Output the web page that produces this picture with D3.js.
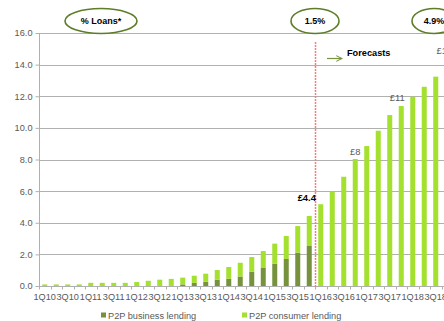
<!DOCTYPE html>
<html>
<head>
<meta charset="utf-8">
<script src="https://cdn.jsdelivr.net/npm/d3@7/dist/d3.min.js"></script>
<style>
  html, body { margin: 0; padding: 0; background: #fff; }
  svg { display: block; font-family: "Liberation Sans", Arial, sans-serif; }
</style>
</head>
<body>
<svg id="chart" width="444" height="321"></svg>
<script>
// ---- data ----
const quarters = [
  "1Q10","2Q10","3Q10","4Q10","1Q11","2Q11","3Q11","4Q11",
  "1Q12","2Q12","3Q12","4Q12","1Q13","2Q13","3Q13","4Q13",
  "1Q14","2Q14","3Q14","4Q14","1Q15","2Q15","3Q15","4Q15",
  "1Q16","2Q16","3Q16","4Q16","1Q17","2Q17","3Q17","4Q17",
  "1Q18","2Q18","3Q18","4Q18"
];
const businessLending = [
  0,0,0,0, 0,0,0,0,
  0,0,0,0, 0.1,0.2,0.27,0.4,
  0.46,0.6,0.9,1.14, 1.41,1.71,2.11,2.53,
  0,0,0,0, 0,0,0,0, 0,0,0,0
];
const consumerLending = [
  0.1,0.1,0.1,0.1, 0.2,0.2,0.2,0.2,
  0.25,0.33,0.4,0.45, 0.43,0.45,0.51,0.61,
  0.74,0.87,0.93,1.07, 1.27,1.45,1.68,1.9,
  5.17,5.97,6.91,8.03, 8.85,9.82,10.81,11.38,
  11.97,12.6,13.24,13.91
];
const tickLabels = quarters.filter((q, i) => i % 2 === 0);
const yTicks = [0, 2, 4, 6, 8, 10, 12, 14, 16];
const seriesNames = ["P2P business lending", "P2P consumer lending"];
const valueLabels = [
  { q: "4Q15", text: "£4.4", bold: true },
  { q: "4Q16", text: "£8", bold: false },
  { q: "4Q17", text: "£11", bold: false },
  { q: "4Q18", text: "£14", bold: false }
];
const bubbles = ["% Loans*", "1.5%", "4.9%"];
const forecastStart = "1Q16";

// ---- layout ----
const svg = d3.select("#chart");
const colors = ["#76923c", "#a4e02e"];
const textGray = "#595959";
const gridGray = "#b0b0b0";

const x = d3.scaleBand().domain(quarters).range([39, 453]).paddingInner(0.565).paddingOuter(0.2825);
const y = d3.scaleLinear().domain([0, 16]).range([286, 33]);
const step = x.step();
const bandStart = q => 39 + quarters.indexOf(q) * step;

// gridlines
svg.append("g").selectAll("line").data(yTicks.filter(d => d > 0)).join("line")
  .attr("x1", 39).attr("x2", 453)
  .attr("y1", d => Math.round(y(d)) + 0.5).attr("y2", d => Math.round(y(d)) + 0.5)
  .attr("stroke", gridGray).attr("stroke-width", 1);

// y axis
const yAxis = svg.append("g").attr("transform", "translate(39.5,0)")
  .call(d3.axisLeft(y).tickValues(yTicks).tickFormat(d3.format(".1f")).tickSize(4).tickPadding(3));
yAxis.select(".domain").attr("stroke", gridGray).attr("d", `M0,${y(16)}V${y(0)}`);
yAxis.selectAll(".tick line").attr("stroke", gridGray);
yAxis.selectAll(".tick text").attr("fill", textGray).style("font-size", "9.2px")
  .style("font-family", "'Liberation Sans', Arial, sans-serif");

// stacked bars
const stackData = quarters.map((q, i) => ({ q, b: businessLending[i], c: consumerLending[i] }));
const stack = d3.stack().keys(["b", "c"])(stackData);
svg.append("g").selectAll("g").data(stack).join("g")
  .attr("fill", (d, i) => colors[i])
  .selectAll("rect").data(d => d).join("rect")
  .attr("x", d => x(d.data.q))
  .attr("width", x.bandwidth())
  .attr("y", d => y(d[1]))
  .attr("height", d => Math.max(0, y(d[0]) - y(d[1])));

// x axis
const xg = svg.append("g").attr("transform", "translate(0,286.5)");
xg.append("line").attr("x1", 39).attr("x2", 453).attr("stroke", gridGray);
xg.selectAll("line.tk").data(d3.range(quarters.length + 1)).join("line")
  .attr("class", "tk")
  .attr("x1", i => Math.round(39 + i * step) + 0.5).attr("x2", i => Math.round(39 + i * step) + 0.5)
  .attr("y1", 0).attr("y2", 3).attr("stroke", gridGray);
xg.selectAll("text").data(tickLabels).join("text")
  .attr("x", d => x(d) + x.bandwidth() / 2)
  .attr("y", 13.5)
  .attr("text-anchor", "middle")
  .attr("fill", textGray).style("font-size", "9.2px")
  .text(d => d);

// forecast divider
const fx = bandStart(forecastStart);
svg.append("line")
  .attr("x1", fx + 0.5).attr("x2", fx + 0.5).attr("y1", 42).attr("y2", 287)
  .attr("stroke", "#ff7b7b").attr("stroke-width", 1.5).attr("stroke-dasharray", "2,1");

// forecasts label + arrow
svg.append("defs").append("marker")
  .attr("id", "arr").attr("viewBox", "0 0 10 10").attr("refX", 9).attr("refY", 5)
  .attr("markerWidth", 6).attr("markerHeight", 6).attr("orient", "auto")
  .append("path").attr("d", "M1,1L9,5L1,9").attr("fill", "none").attr("stroke", "#77933c").attr("stroke-width", 1.5);
svg.append("line").attr("x1", fx + 12).attr("x2", fx + 27).attr("y1", 58.5).attr("y2", 58.5)
  .attr("stroke", "#77933c").attr("stroke-width", 1.2).attr("marker-end", "url(#arr)");
svg.append("text").attr("x", fx + 32).attr("y", 55.5)
  .style("font-size", "9.2px").style("font-weight", "bold").attr("fill", "#000").text("Forecasts");

// value labels
const labelDy = { "4Q15": -15, "4Q16": -4, "4Q17": -5, "4Q18": -12 };
const labelDx = { "4Q15": -2.5, "4Q16": 0, "4Q17": -4, "4Q18": -3 };
svg.append("g").selectAll("text").data(valueLabels).join("text")
  .attr("x", d => x(d.q) + x.bandwidth() / 2 + labelDx[d.q])
  .attr("y", d => {
    const i = quarters.indexOf(d.q);
    return y(businessLending[i] + consumerLending[i]) + labelDy[d.q];
  })
  .attr("text-anchor", "middle")
  .attr("fill", d => d.bold ? "#000" : textGray)
  .style("font-size", "9.4px")
  .style("font-weight", d => d.bold ? "bold" : "normal")
  .text(d => d.text);

// ellipse bubbles
const bubblePos = [
  { cx: 101, rx: 36 },
  { cx: fx, rx: 24 },
  { cx: 434, rx: 22 }
];
const bg = svg.append("g").selectAll("g").data(bubbles).join("g")
  .attr("transform", (d, i) => `translate(${bubblePos[i].cx},21)`);
bg.append("ellipse").attr("rx", (d, i) => bubblePos[i].rx).attr("ry", 12.5)
  .attr("fill", "#fff").attr("stroke", "#5e7d28").attr("stroke-width", 1.6);
bg.append("text").attr("text-anchor", "middle").attr("y", 2.5)
  .style("font-size", "9px").style("font-weight", "bold").attr("fill", "#000")
  .text(d => d);

// legend
const legendX = [101, 242];
const lg = svg.append("g").selectAll("g").data(seriesNames).join("g")
  .attr("transform", (d, i) => `translate(${legendX[i]},312.5)`);
lg.append("rect").attr("width", 5).attr("height", 5).attr("fill", (d, i) => colors[i]);
lg.append("text").attr("x", 7).attr("y", 6).attr("fill", textGray)
  .style("font-size", "9.2px").text(d => d);
</script>
</body>
</html>
